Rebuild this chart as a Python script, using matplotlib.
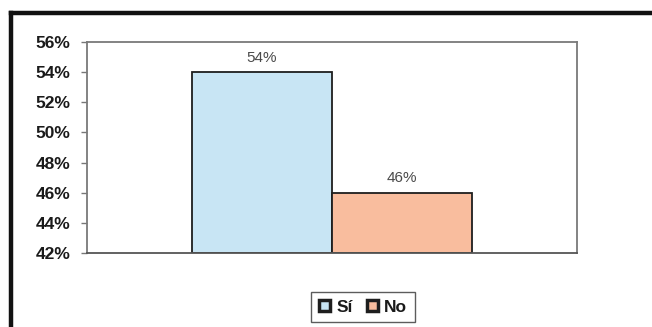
import matplotlib
matplotlib.use("Agg")
import matplotlib.pyplot as plt
from matplotlib.lines import Line2D
from matplotlib.patches import Patch

plt.rcParams['font.family'] = ['Liberation Sans', 'DejaVu Sans']

# Survey answers
categories = ["Sí", "No"]
values = [54, 46]
value_labels = ["54%", "46%"]
yticks = [42, 44, 46, 48, 50, 52, 54, 56]
ytick_labels = ["42%", "44%", "46%", "48%", "50%", "52%", "54%", "56%"]

colors = ["#c8e5f4", "#f9bd9e"]
edge = "#1e1e1e"

W, H = 652, 327
fig = plt.figure(figsize=(W / 100, H / 100), dpi=100)
fig.patch.set_facecolor("white")

# plot area in pixel coordinates
left, right, top, bottom = 87, 577, 42, 253
ax = fig.add_axes([left / W, 1 - bottom / H, (right - left) / W, (bottom - top) / H])

bar_w = 140 / 490 * 2
offsets = [-bar_w / 2, bar_w / 2]
for off, v, c, lab in zip(offsets, values, colors, value_labels):
    ax.bar(off, v - 42, bottom=42, width=bar_w, color=c, edgecolor=edge, linewidth=1.3)
    ax.text(off, v + 0.5, lab, ha="center", va="bottom", fontsize=11, color="#4a4a4a")

ax.set_xlim(-1, 1)
ax.set_ylim(42, 56)
ax.set_xticks([])
ax.set_yticks(yticks)
ax.set_yticklabels(ytick_labels, fontsize=12.5, color="#1a1a1a", fontweight="bold")
ax.tick_params(axis="y", length=4, width=1, color="#777777", pad=8)
for s in ax.spines.values():
    s.set_color("#7a7a7a")
    s.set_linewidth(1.3)
ax.spines["bottom"].set_color("#555555")

# legend
handles = [Patch(facecolor=c, edgecolor=edge, linewidth=2.5) for c in colors]
leg = fig.legend(handles, categories, loc="center", bbox_to_anchor=(363 / W, 1 - 307 / H),
                 ncol=2, frameon=True, fancybox=False, edgecolor="#333333",
                 prop={"size": 12.5, "weight": "bold"},
                 handlelength=0.65, handleheight=0.65, handletextpad=0.35, columnspacing=0.8,
                 borderpad=0.45, borderaxespad=0)
for t in leg.get_texts():
    t.set_color("#1a1a1a")
leg.get_frame().set_linewidth(1.0)

# outer chart frame (thick border)
fig.add_artist(Line2D([11 / W, 1.02], [1 - 13 / H, 1 - 13 / H], color="#111111", lw=3.2,
                      transform=fig.transFigure, solid_capstyle="projecting"))
fig.add_artist(Line2D([11 / W, 11 / W], [1 - 13 / H, -0.02], color="#111111", lw=3.2,
                      transform=fig.transFigure, solid_capstyle="projecting"))

fig.savefig("out.png", dpi=100)
